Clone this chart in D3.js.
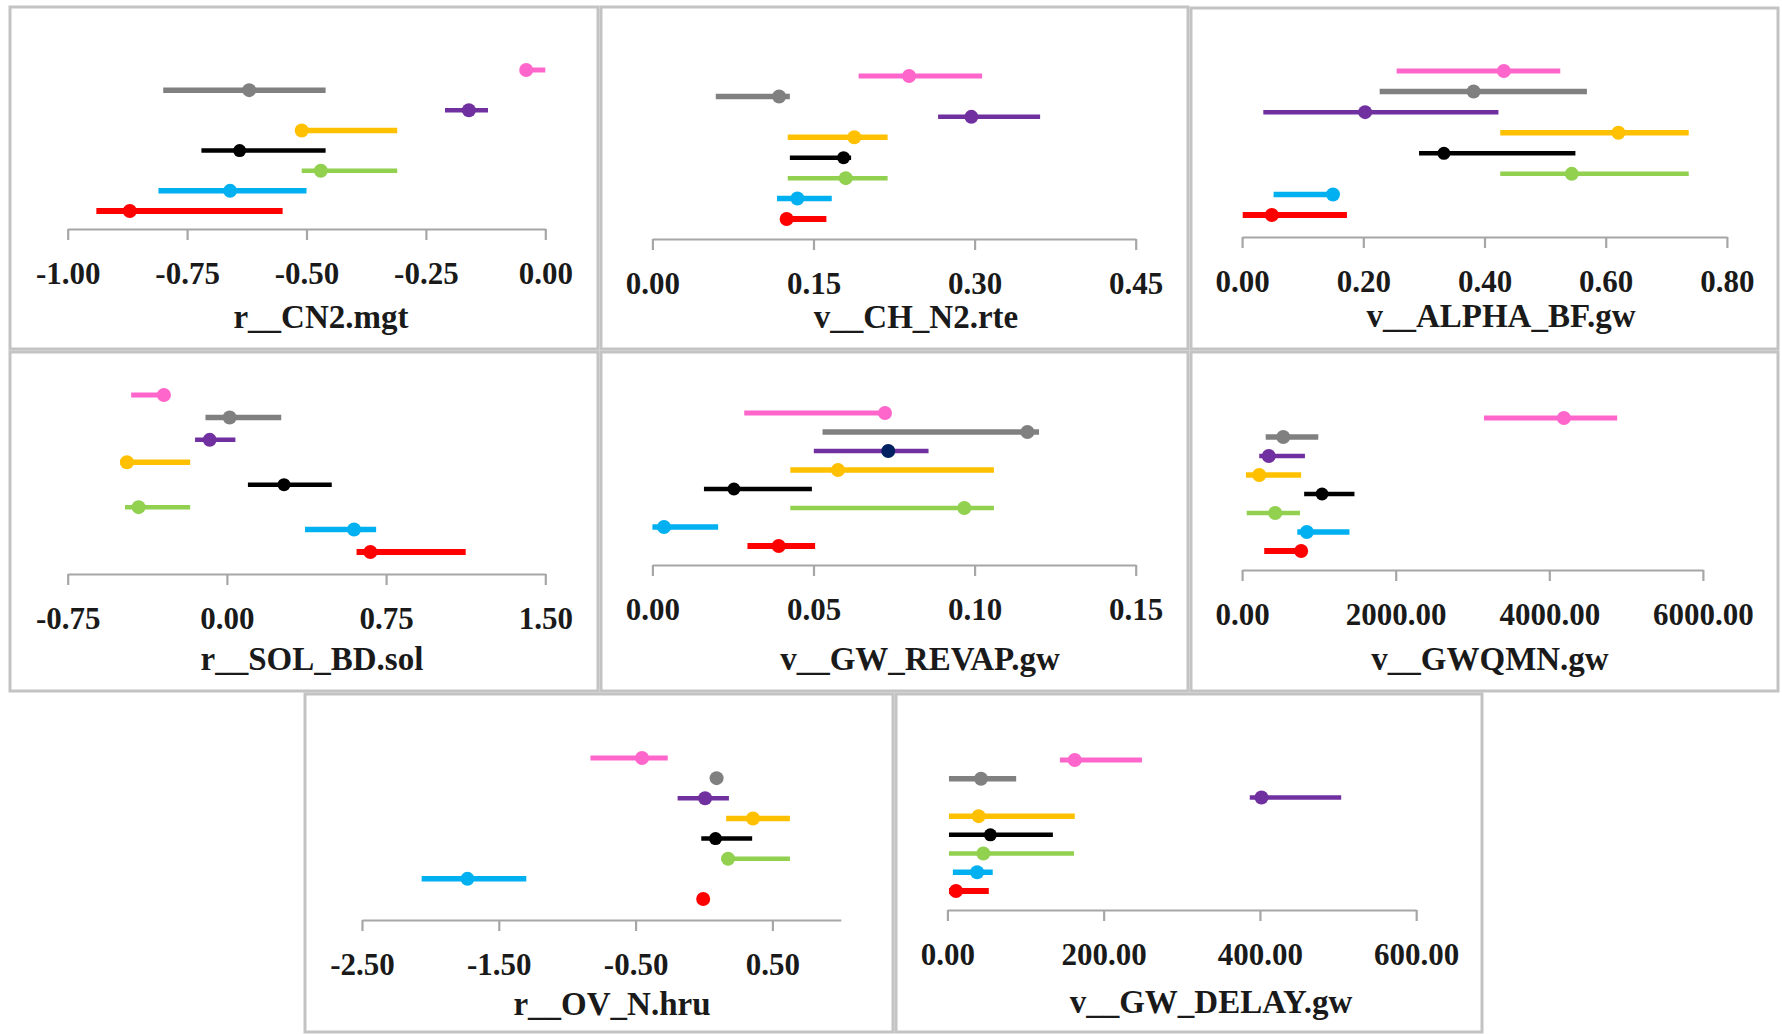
<!DOCTYPE html>
<html>
<head>
<meta charset="utf-8">
<script src="https://cdn.jsdelivr.net/npm/d3@7"></script>
<style>
  body { margin: 0; background: #fff; }
  svg { display: block; }
  .tick text { font-family: "Liberation Serif", serif; font-weight: bold; font-size: 31px; fill: #1a1a1a; }
  .title { font-family: "Liberation Serif", serif; font-weight: bold; font-size: 33px; fill: #1a1a1a; }
</style>
</head>
<body>
<script>
// series order top to bottom
const seriesColors = ["#ff66cc", "#808080", "#7030a0", "#ffc000", "#000000", "#92d050", "#00b0f0", "#ff0000"];
const seriesWidths = [5, 5.5, 4.5, 5.5, 4.5, 4.5, 5.5, 6];

const titles = ["r__CN2.mgt", "v__CH_N2.rte", "v__ALPHA_BF.gw", "r__SOL_BD.sol",
  "v__GW_REVAP.gw", "v__GWQMN.gw", "r__OV_N.hru", "v__GW_DELAY.gw"];

// r__CN2.mgt
const cn2Low  = [-0.04, -0.80, -0.21, -0.52, -0.72, -0.51, -0.81, -0.94];
const cn2Mid  = [-0.04, -0.62, -0.16, -0.51, -0.64, -0.47, -0.66, -0.87];
const cn2High = [0.00, -0.46, -0.12, -0.31, -0.46, -0.31, -0.50, -0.55];
const cn2Ticks = [-1.00, -0.75, -0.50, -0.25, 0.00];

// v__CH_N2.rte
const chLow  = [0.192, 0.059, 0.266, 0.126, 0.128, 0.126, 0.116, 0.120];
const chMid  = [0.239, 0.118, 0.297, 0.188, 0.178, 0.180, 0.135, 0.125];
const chHigh = [0.307, 0.128, 0.361, 0.219, 0.185, 0.219, 0.167, 0.162];
const chTicks = [0.00, 0.15, 0.30, 0.45];

// v__ALPHA_BF.gw
const alphaLow  = [0.255, 0.227, 0.035, 0.426, 0.292, 0.426, 0.052, 0.001];
const alphaMid  = [0.432, 0.382, 0.203, 0.621, 0.333, 0.544, 0.150, 0.049];
const alphaHigh = [0.525, 0.569, 0.423, 0.737, 0.550, 0.737, 0.157, 0.173];
const alphaTicks = [0.00, 0.20, 0.40, 0.60, 0.80];

// r__SOL_BD.sol
const solLow  = [-0.451, -0.101, -0.150, -0.501, 0.099, -0.480, 0.368, 0.611];
const solMid  = [-0.297, 0.013, -0.081, -0.471, 0.269, -0.416, 0.599, 0.676];
const solHigh = [-0.267, 0.256, 0.040, -0.173, 0.494, -0.173, 0.703, 1.125];
const solTicks = [-0.75, 0.00, 0.75, 1.50];

// v__GW_REVAP.gw
const revapLow  = [0.0285, 0.0528, 0.0501, 0.0428, 0.0160, 0.0428, 0.0000, 0.0295];
const revapMid  = [0.0722, 0.1164, 0.0732, 0.0576, 0.0253, 0.0968, 0.0036, 0.0392];
const revapHigh = [0.0739, 0.1200, 0.0857, 0.1060, 0.0495, 0.1060, 0.0204, 0.0505];
const revapTicks = [0.00, 0.05, 0.10, 0.15];

// v__GWQMN.gw
const gwqmnLow  = [3149, 307, 223, 50, 808, 60, 719, 288];
const gwqmnMid  = [4190, 536, 347, 223, 1041, 431, 843, 769];
const gwqmnHigh = [4884, 992, 818, 769, 1463, 754, 1398, 843];
const gwqmnTicks = [0, 2000, 4000, 6000];

// r__OV_N.hru
const ovLow  = [-0.830, 0.092, -0.193, 0.162, -0.020, 0.128, -2.064, -0.006];
const ovMid  = [-0.453, 0.092, 0.008, 0.358, 0.084, 0.176, -1.729, -0.006];
const ovHigh = [-0.265, 0.092, 0.182, 0.628, 0.352, 0.628, -1.299, -0.006];
const ovTicks = [-2.50, -1.50, -0.50, 0.50];

// v__GW_DELAY.gw
const delayLow  = [144, 2, 387, 2, 2, 2, 7, 2];
const delayMid  = [163, 43, 402, 40, 55, 46, 38, 11];
const delayHigh = [249, 88, 504, 163, 135, 162, 58, 53];
const delayTicks = [0, 200, 400, 600];

const panels = [
  { low: cn2Low, mid: cn2Mid, high: cn2High, domain: [-1, 0], ticks: cn2Ticks },
  { low: chLow, mid: chMid, high: chHigh, domain: [0, 0.45], ticks: chTicks },
  { low: alphaLow, mid: alphaMid, high: alphaHigh, domain: [0, 0.8], ticks: alphaTicks },
  { low: solLow, mid: solMid, high: solHigh, domain: [-0.75, 1.5], ticks: solTicks },
  { low: revapLow, mid: revapMid, high: revapHigh, domain: [0, 0.15], ticks: revapTicks, dotOverride: { 2: "#002060" } },
  { low: gwqmnLow, mid: gwqmnMid, high: gwqmnHigh, domain: [0, 6000], ticks: gwqmnTicks },
  { low: ovLow, mid: ovMid, high: ovHigh, domain: [-2.5, 1.0], ticks: ovTicks },
  { low: delayLow, mid: delayMid, high: delayHigh, domain: [0, 600], ticks: delayTicks }
];

// frame box, x range of axis, axis y, first/last row y, title position
const layout = [
  { box: [10, 7, 588, 342], xr: [67.7, 545.3], axisY: 229, rows: [70, 211], title: [321, 328] },
  { box: [601, 7, 587, 342], xr: [652.4, 1135.7], axisY: 239, rows: [76, 219], title: [916, 328] },
  { box: [1191, 8, 587, 341], xr: [1242.1, 1726.9], axisY: 237, rows: [71, 215], title: [1501, 327] },
  { box: [10, 352, 588, 339], xr: [67.7, 545.3], axisY: 574, rows: [395, 552], title: [312, 670] },
  { box: [601, 352, 587, 339], xr: [652.4, 1135.7], axisY: 565, rows: [413, 546], title: [920, 670] },
  { box: [1191, 352, 587, 339], xr: [1242.1, 1702.9], axisY: 570, rows: [418, 551], title: [1490, 670] },
  { box: [305, 694, 588, 338], xr: [362, 840.8], axisY: 920, rows: [758, 899], title: [612, 1015] },
  { box: [896, 694, 586, 338], xr: [947.4, 1416.2], axisY: 910, rows: [760, 891], title: [1211, 1013] }
];

const width = 1782, height = 1034;
const svg = d3.select("body").append("svg").attr("width", width).attr("height", height);
const fmt = d3.formatLocale({ decimal: ".", thousands: "", grouping: [3], currency: ["", ""], minus: "-" }).format(".2f");

panels.forEach((p, i) => {
  const L = layout[i];
  const g = svg.append("g");

  g.append("rect")
    .attr("x", L.box[0]).attr("y", L.box[1])
    .attr("width", L.box[2]).attr("height", L.box[3])
    .attr("fill", "#fff").attr("stroke", "#c3c3c3").attr("stroke-width", 3);

  const x = d3.scaleLinear().domain(p.domain).range(L.xr);
  const y = d3.scalePoint().domain(d3.range(seriesColors.length)).range(L.rows);

  const axis = g.append("g")
    .attr("transform", `translate(0,${L.axisY})`)
    .call(d3.axisBottom(x).tickValues(p.ticks).tickFormat(fmt).tickSize(11).tickSizeOuter(0));
  axis.select(".domain").attr("stroke", "#a6a6a6").attr("stroke-width", 2.2);
  axis.selectAll(".tick line").attr("stroke", "#a6a6a6").attr("stroke-width", 2.2);
  axis.selectAll(".tick text").attr("y", 55).attr("dy", null);

  g.append("text").attr("class", "title")
    .attr("x", L.title[0]).attr("y", L.title[1])
    .attr("text-anchor", "middle").text(titles[i]);

  const idx = d3.range(seriesColors.length);
  g.selectAll("line.range").data(idx).join("line")
    .attr("class", "range")
    .attr("x1", d => x(p.low[d])).attr("x2", d => x(p.high[d]))
    .attr("y1", d => y(d)).attr("y2", d => y(d))
    .attr("stroke", d => seriesColors[d])
    .attr("stroke-width", d => seriesWidths[d]);

  g.selectAll("circle.mid").data(idx).join("circle")
    .attr("class", "mid")
    .attr("cx", d => x(p.mid[d])).attr("cy", d => y(d))
    .attr("r", d => d === 4 ? 6.5 : 7)
    .attr("fill", d => (p.dotOverride && p.dotOverride[d]) || seriesColors[d]);
});
</script>
</body>
</html>
